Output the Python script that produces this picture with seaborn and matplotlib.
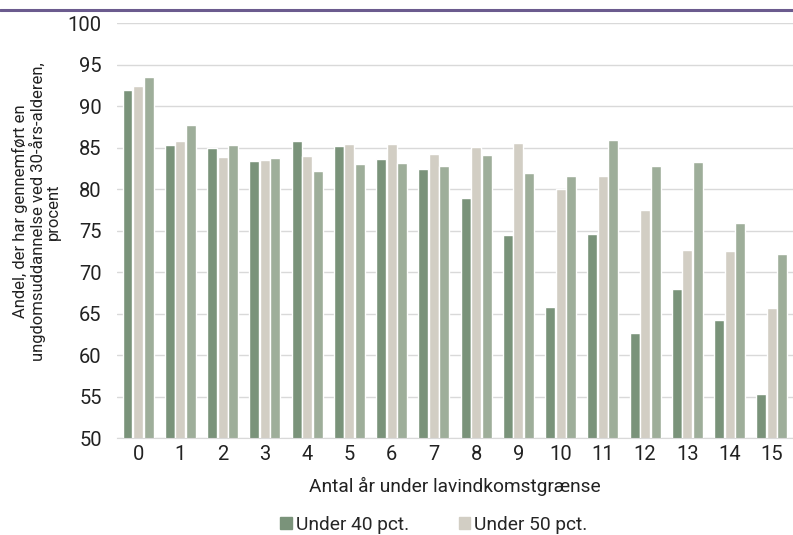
import matplotlib
matplotlib.use("Agg")
import matplotlib.pyplot as plt
import pandas as pd
import seaborn as sns
from matplotlib.lines import Line2D

years = list(range(16))
under_40 = [92.0, 85.3, 85.0, 83.4, 85.8, 85.2, 83.7, 82.5, 78.95, 74.45,
            65.8, 74.6, 62.7, 68.0, 64.25, 55.3]
under_50 = [92.5, 85.85, 83.85, 83.5, 84.0, 85.5, 85.45, 84.2, 85.15, 85.6,
            80.0, 81.6, 77.5, 72.7, 72.6, 65.7]
under_60 = [93.5, 87.8, 85.3, 83.8, 82.2, 83.05, 83.2, 82.8, 84.15, 82.0,
            81.6, 85.9, 82.8, 83.3, 75.9, 72.25]
series_names = ["Under 40 pct.", "Under 50 pct.", "Under 60 pct."]
colors = ["#7a937a", "#d2cec4", "#9eae9a"]

df = pd.DataFrame({
    "aar": years * 3,
    "andel": under_40 + under_50 + under_60,
    "serie": [s for s in series_names for _ in years],
})

sns.set_style("white")
plt.rcParams["font.family"] = ["Roboto", "DejaVu Sans"]

fig = plt.figure(figsize=(7.93, 5.35), dpi=100)
ax = fig.add_axes([0.1475, 0.1807, 0.8525, 0.7757])

sns.barplot(data=df, x="aar", y="andel", hue="serie", hue_order=series_names,
            palette=colors, width=0.75, gap=0.06, saturation=1, ax=ax,
            legend=False)

ax.set_ylim(50, 100)
ax.set_xlim(-0.5, 15.5)
ax.set_yticks(range(50, 101, 5))
ax.yaxis.grid(True, color="#d9d9d9", linewidth=1)
ax.set_axisbelow(True)
for side in ["left", "right", "top"]:
    ax.spines[side].set_visible(False)
ax.spines["bottom"].set_color("#d9d9d9")
ax.tick_params(axis="y", length=0, pad=11, labelsize=14.5, labelcolor="#222222")
ax.tick_params(axis="x", length=0, pad=5, labelsize=14.5, labelcolor="#222222")

ax.set_xlabel("Antal år under lavindkomstgrænse", fontsize=13.8, color="#222222", labelpad=9)
ax.set_ylabel("")
fig.text(0.046, 0.605,
         "Andel, der har gennemført en\nungdomsuddannelse ved 30-års-alderen,\nprocent",
         rotation=90, ha="center", va="center", fontsize=12, color="#222222",
         linespacing=1.0, multialignment="center")

# purple line across the top
fig.add_artist(Line2D([0, 1], [0.981, 0.981], transform=fig.transFigure,
                      color="#6b5b8e", linewidth=2.2))

# only the first two entries are visible in the original
handles = [plt.Rectangle((0, 0), 1, 1, color=c) for c in colors[:2]]
fig.legend(handles, series_names[:2],
           loc="lower center", bbox_to_anchor=(0.547, 0.002), ncol=2,
           frameon=False, fontsize=13.8, handlelength=0.6, handleheight=0.6,
           handletextpad=0.2, columnspacing=2.6, borderaxespad=0, borderpad=0)

fig.savefig("out.png", dpi=100)
